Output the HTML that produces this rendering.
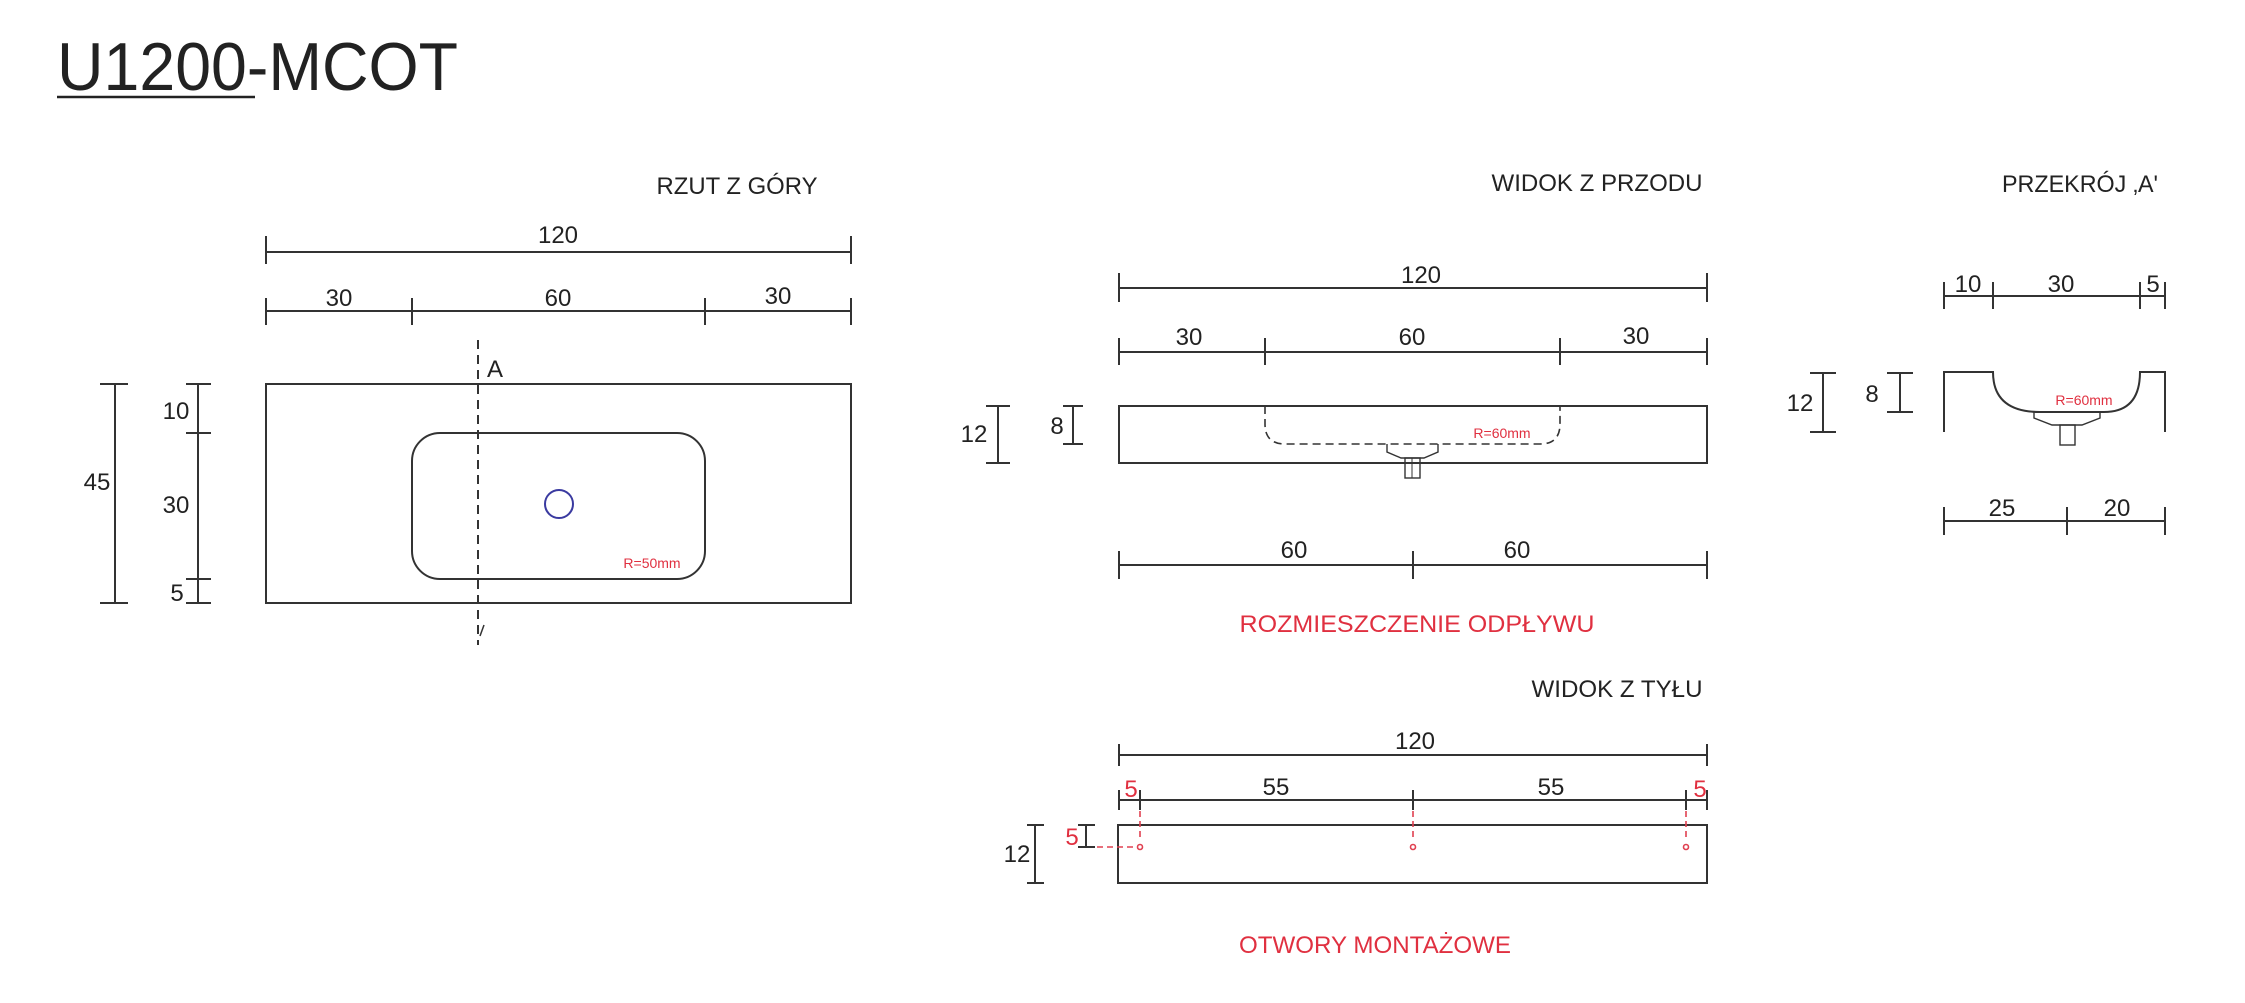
<!DOCTYPE html>
<html><head><meta charset="utf-8"><style>
html,body{margin:0;padding:0;background:#fff;}
svg{display:block;}
text{font-family:"Liberation Sans Narrow","Liberation Sans",sans-serif;fill:#222;}
.r{fill:#e03040;}
</style></head><body>
<svg width="2245" height="1003" viewBox="0 0 2245 1003" xmlns="http://www.w3.org/2000/svg">
<g stroke="#333" stroke-width="2" fill="none">
<line x1="57" y1="97" x2="255" y2="97" stroke="#222" stroke-width="2.5"/>

<!-- TOP VIEW -->
<line x1="266" y1="252" x2="851" y2="252"/>
<line x1="266" y1="236" x2="266" y2="264"/><line x1="851" y1="236" x2="851" y2="264"/>
<line x1="266" y1="311" x2="851" y2="311"/>
<line x1="266" y1="298" x2="266" y2="325"/><line x1="412" y1="298" x2="412" y2="325"/>
<line x1="705" y1="298" x2="705" y2="325"/><line x1="851" y1="298" x2="851" y2="325"/>
<rect x="266" y="384" width="585" height="219"/>
<rect x="412" y="433" width="293" height="146" rx="28" ry="28"/>
<circle cx="559" cy="504" r="14" stroke="#3a3aa0"/>
<line x1="478" y1="340" x2="478" y2="645" stroke-dasharray="9,6"/>
<line x1="484" y1="625" x2="480" y2="636" stroke-width="1.5"/>
<line x1="115" y1="384" x2="115" y2="603"/>
<line x1="100" y1="384" x2="128" y2="384"/><line x1="100" y1="603" x2="128" y2="603"/>
<line x1="198" y1="384" x2="198" y2="603"/>
<line x1="186" y1="384" x2="211" y2="384"/><line x1="186" y1="433" x2="211" y2="433"/>
<line x1="186" y1="579" x2="211" y2="579"/><line x1="186" y1="603" x2="211" y2="603"/>

<!-- FRONT VIEW -->
<line x1="1119" y1="288" x2="1707" y2="288"/>
<line x1="1119" y1="273" x2="1119" y2="302"/><line x1="1707" y1="273" x2="1707" y2="302"/>
<line x1="1119" y1="352" x2="1707" y2="352"/>
<line x1="1119" y1="338" x2="1119" y2="365"/><line x1="1265" y1="338" x2="1265" y2="365"/>
<line x1="1560" y1="338" x2="1560" y2="365"/><line x1="1707" y1="338" x2="1707" y2="365"/>
<rect x="1119" y="406" width="588" height="57"/>
<path d="M1265 406 V424 Q1265 444 1285 444 H1540 Q1560 444 1560 424 V406" stroke-dasharray="8,5" stroke-width="1.6"/>
<path d="M1387 444 V452 L1401 458 H1424 L1438 452 V444" stroke-width="1.4"/>
<rect x="1405" y="458" width="15" height="20" stroke-width="1.4"/>
<line x1="1412" y1="458" x2="1412" y2="478" stroke-width="1"/>
<line x1="1073" y1="406" x2="1073" y2="444"/>
<line x1="1063" y1="406" x2="1083" y2="406"/><line x1="1063" y1="444" x2="1083" y2="444"/>
<line x1="998" y1="406" x2="998" y2="463"/>
<line x1="986" y1="406" x2="1010" y2="406"/><line x1="986" y1="463" x2="1010" y2="463"/>
<line x1="1119" y1="565" x2="1707" y2="565"/>
<line x1="1119" y1="551" x2="1119" y2="579"/><line x1="1413" y1="551" x2="1413" y2="579"/><line x1="1707" y1="551" x2="1707" y2="579"/>

<!-- SECTION A -->
<line x1="1944" y1="296" x2="2165" y2="296"/>
<line x1="1944" y1="282" x2="1944" y2="309"/><line x1="1993" y1="282" x2="1993" y2="309"/>
<line x1="2140" y1="282" x2="2140" y2="309"/><line x1="2165" y1="282" x2="2165" y2="309"/>
<path d="M1944 432 V372 H1993 Q1993 412 2040 412 H2104 Q2140 412 2140 372 H2165 V432"/>
<path d="M2034 412 V418 L2052 425 H2082 L2100 418 V412" stroke-width="1.4"/>
<rect x="2060" y="425" width="15" height="20" stroke-width="1.4"/>
<line x1="1823" y1="373" x2="1823" y2="432"/>
<line x1="1810" y1="373" x2="1836" y2="373"/><line x1="1810" y1="432" x2="1836" y2="432"/>
<line x1="1900" y1="373" x2="1900" y2="412"/>
<line x1="1887" y1="373" x2="1913" y2="373"/><line x1="1887" y1="412" x2="1913" y2="412"/>
<line x1="1944" y1="521" x2="2165" y2="521"/>
<line x1="1944" y1="507" x2="1944" y2="535"/><line x1="2067" y1="507" x2="2067" y2="535"/><line x1="2165" y1="507" x2="2165" y2="535"/>

<!-- BACK VIEW -->
<line x1="1119" y1="755" x2="1707" y2="755"/>
<line x1="1119" y1="744" x2="1119" y2="766"/><line x1="1707" y1="744" x2="1707" y2="766"/>
<line x1="1119" y1="800" x2="1707" y2="800"/>
<line x1="1119" y1="790" x2="1119" y2="810"/><line x1="1140" y1="790" x2="1140" y2="810"/>
<line x1="1413" y1="790" x2="1413" y2="810"/><line x1="1686" y1="790" x2="1686" y2="810"/>
<line x1="1707" y1="790" x2="1707" y2="810"/>
<rect x="1118" y="825" width="589" height="58"/>
<line x1="1035" y1="825" x2="1035" y2="883"/>
<line x1="1027" y1="825" x2="1044" y2="825"/><line x1="1027" y1="883" x2="1044" y2="883"/>
<line x1="1086" y1="825" x2="1086" y2="847"/>
<line x1="1078" y1="825" x2="1095" y2="825"/><line x1="1078" y1="847" x2="1095" y2="847"/>
<g stroke="#e04050" stroke-width="1.6">
<line x1="1140" y1="811" x2="1140" y2="840" stroke-dasharray="6,4"/>
<line x1="1413" y1="811" x2="1413" y2="840" stroke-dasharray="6,4"/>
<line x1="1686" y1="811" x2="1686" y2="840" stroke-dasharray="6,4"/>
<line x1="1097" y1="847" x2="1136" y2="847" stroke-dasharray="6,4"/>
<circle cx="1140" cy="847" r="2.5"/><circle cx="1413" cy="847" r="2.5"/><circle cx="1686" cy="847" r="2.5"/>
</g>
</g>

<text x="57" y="90" font-size="68" textLength="401" lengthAdjust="spacingAndGlyphs">U1200-MCOT</text>

<g font-size="24" text-anchor="middle">
<text x="737" y="194" textLength="161" lengthAdjust="spacingAndGlyphs">RZUT Z GÓRY</text>
<text x="558" y="243">120</text>
<text x="339" y="306">30</text><text x="558" y="306">60</text><text x="778" y="304">30</text>
<text x="495" y="377">A</text>
<text x="97" y="490">45</text>
<text x="176" y="419">10</text><text x="176" y="513">30</text><text x="177" y="601">5</text>

<text x="1597" y="191" textLength="211" lengthAdjust="spacingAndGlyphs">WIDOK Z PRZODU</text>
<text x="1421" y="283">120</text>
<text x="1189" y="345">30</text><text x="1412" y="345">60</text><text x="1636" y="344">30</text>
<text x="1057" y="434">8</text><text x="974" y="442">12</text>
<text x="1294" y="558">60</text><text x="1517" y="558">60</text>
<text class="r" x="1417" y="632" textLength="355" lengthAdjust="spacingAndGlyphs">ROZMIESZCZENIE ODPŁYWU</text>

<text x="2080" y="192" textLength="156" lengthAdjust="spacingAndGlyphs">PRZEKRÓJ ‚A'</text>
<text x="1968" y="292">10</text><text x="2061" y="292">30</text><text x="2153" y="292">5</text>
<text x="1800" y="411">12</text><text x="1872" y="402">8</text>
<text x="2002" y="516">25</text><text x="2117" y="516">20</text>

<text x="1617" y="697" textLength="171" lengthAdjust="spacingAndGlyphs">WIDOK Z TYŁU</text>
<text x="1415" y="749">120</text>
<text x="1276" y="795">55</text><text x="1551" y="795">55</text>
<text class="r" x="1131" y="797">5</text><text class="r" x="1700" y="797">5</text>
<text class="r" x="1072" y="845">5</text>
<text x="1017" y="862">12</text>
<text class="r" x="1375" y="953" textLength="272" lengthAdjust="spacingAndGlyphs">OTWORY MONTAŻOWE</text>
</g>
<g font-size="14" text-anchor="middle">
<text class="r" x="652" y="568">R=50mm</text>
<text class="r" x="1502" y="438">R=60mm</text>
<text class="r" x="2084" y="405">R=60mm</text>
</g>
</svg>
</body></html>
